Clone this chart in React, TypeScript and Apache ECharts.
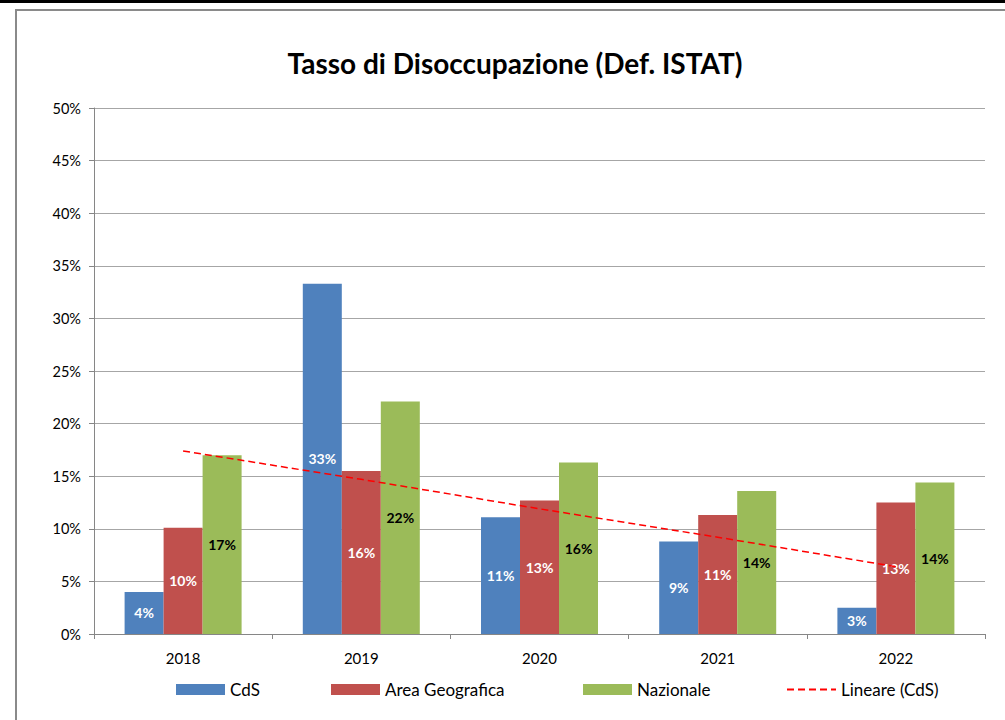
import React, { useEffect, useRef } from "react";
import * as echarts from "echarts";

const years = ["2018", "2019", "2020", "2021", "2022"];
const cds = [4.0, 33.3, 11.1, 8.8, 2.5];
const areaGeo = [10.1, 15.5, 12.7, 11.3, 12.5];
const nazionale = [17.0, 22.1, 16.3, 13.6, 14.4];
const trendCds = [17.4, 14.7, 11.9, 9.2, 6.4];
const yTicks = [0, 5, 10, 15, 20, 25, 30, 35, 40, 45, 50];
const legendNames = ["CdS", "Area Geografica", "Nazionale", "Lineare (CdS)"];
const legendLeft = [176, 331, 583, 786];

const FONT = "Lato, 'Noto Sans', sans-serif";

export default function App() {
  const ref = useRef<HTMLDivElement>(null);
  useEffect(() => {
    const chart = echarts.init(ref.current!, undefined, { renderer: "svg" });
    const barLabel = (color: string) => ({
      show: true,
      position: "inside",
      color,
      fontWeight: "bold",
      fontSize: 14,
      fontFamily: FONT,
      formatter: (p: any) => Math.round(p.value) + "%",
    });
    const legends = legendNames.map((name, i) => ({
      left: legendLeft[i],
      top: 681,
      padding: 0,
      itemWidth: 49,
      itemHeight: 11,
      textStyle: { fontSize: 17, color: "#000", fontFamily: FONT },
      data: [
        i < 3
          ? { name, icon: "rect" }
          : { name, itemStyle: { opacity: 0 } },
      ],
    }));
    chart.setOption({
      animation: false,
      backgroundColor: "#ffffff",
      textStyle: { fontFamily: FONT },
      title: {
        text: "Tasso di Disoccupazione (Def. ISTAT)",
        left: 510,
        textAlign: "center",
        top: 44,
        textStyle: { fontSize: 28, fontWeight: "bold", color: "#000", fontFamily: FONT },
      },
      graphic: [
        { type: "rect", shape: { x: 0, y: 0, width: 1005, height: 3 }, style: { fill: "#000" }, silent: true },
        {
          type: "rect",
          shape: { x: 16, y: 10, width: 1010, height: 730 },
          style: { fill: "none", stroke: "#8a8a8a", lineWidth: 2 },
          silent: true,
        },
      ],
      grid: { left: 94, right: 20, top: 108, bottom: 86, containLabel: false },
      legend: legends,
      xAxis: {
        type: "category",
        data: years,
        axisLine: { lineStyle: { color: "#868686" } },
        axisTick: { show: true, length: 5, lineStyle: { color: "#868686" } },
        axisLabel: { color: "#000", fontSize: 15, margin: 16 },
      },
      yAxis: {
        type: "value",
        min: yTicks[0],
        max: yTicks[yTicks.length - 1],
        interval: 5,
        axisLine: { show: true, lineStyle: { color: "#868686" } },
        axisTick: { show: true, length: 5, lineStyle: { color: "#868686" } },
        axisLabel: { color: "#000", fontSize: 14.5, margin: 13, formatter: (v: number) => v + "%" },
        splitLine: { lineStyle: { color: "#a6a6a6", width: 1 } },
      },
      series: [
        {
          name: "CdS",
          type: "bar",
          data: cds,
          barWidth: 39,
          barGap: "0%",
          itemStyle: { color: "#4F81BD" },
          label: barLabel("#ffffff"),
        },
        {
          name: "Area Geografica",
          type: "bar",
          data: areaGeo,
          barWidth: 39,
          barGap: "0%",
          itemStyle: { color: "#C0504D" },
          label: barLabel("#ffffff"),
        },
        {
          name: "Nazionale",
          type: "bar",
          data: nazionale,
          barWidth: 39,
          barGap: "0%",
          itemStyle: { color: "#9BBB59" },
          label: barLabel("#000000"),
        },
        {
          name: "Lineare (CdS)",
          type: "line",
          data: trendCds,
          symbol: "none",
          z: 5,
          lineStyle: { color: "#FF0000", width: 1.5, type: [7, 4] },
          itemStyle: { color: "#FF0000" },
        },
      ],
    });
    return () => chart.dispose();
  }, []);
  return (
    <div
      ref={ref}
      style={{ position: "absolute", left: 0, top: 0, width: 1005, height: 720 }}
    />
  );
}
